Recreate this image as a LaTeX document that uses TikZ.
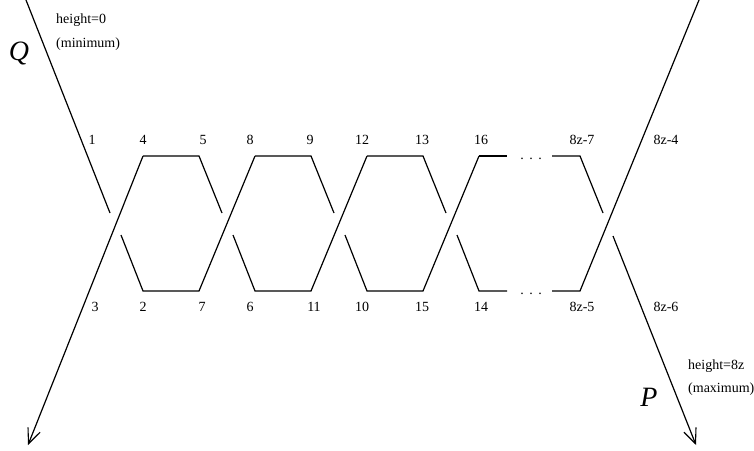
\documentclass[tikz,border=0pt]{standalone}
\usepackage{fontspec}
\setmainfont{Liberation Serif}
\usetikzlibrary{arrows.meta}

\begin{document}
\begin{tikzpicture}[x=1pt, y=-1pt]

  \tikzstyle{strand} = [line width=1.2pt, line join=miter]
  \tikzstyle{ray}    = [strand, -{Straight Barb[length=15pt, width=13pt, line width=1.1pt]}]
  \tikzstyle{lbl}    = [font=\fontsize{14}{16}\selectfont, inner sep=0pt]
  \tikzstyle{note}   = [lbl, anchor=west]
  \tikzstyle{big}    = [font=\fontsize{28}{30}\selectfont\itshape, inner sep=0pt]
  \tikzstyle{gapdot} = [font=\fontsize{14}{16}\selectfont, inner sep=0pt]

  \def\yTop{156}
  \def\yBot{291}

  \useasboundingbox (0,0) rectangle (754,450);

  % ---- OUTER STRANDS ----
  \draw[strand] (26,0) -- (110,213);
  \draw[ray] (143,\yTop) -- (28,445);
  \draw[ray] (613,236) -- (696,445);

  % ---- REPEATED CROSSINGS ----
  \foreach \x in {0,112,224}{
    \draw[strand] (143+\x,\yTop) -- (199+\x,\yTop) -- (222+\x,213);
    \draw[strand] (121+\x,235) -- (143+\x,\yBot) -- (199+\x,\yBot) -- (255+\x,\yTop);
  }

  % ---- LAST CROSSING, BROKEN BY DOTS ----
  \draw[strand] (479,\yTop) -- (507,\yTop);
  \draw[strand] (552,\yTop) -- (580,\yTop) -- (603,213);
  \draw[strand] (457,235) -- (479,\yBot) -- (507,\yBot);
  \draw[strand] (552,\yBot) -- (580,\yBot) -- (699,0);

  \foreach \x in {522,531,540}{
    \node[gapdot] (dt\x) at (\x,\yTop+3) {.};
    \node[gapdot] (db\x) at (\x,\yBot+3) {.};
  }

  % ---- TOP NUMBERS ----
  \foreach \x/\txt in {92/1,143/4,203/5,250/8,310/9,362/12,422/13,481/16,582/8z-7,666/8z-4}{
    \node[lbl] (t\x) at (\x,140) {\txt};
  }

  % ---- BOTTOM NUMBERS ----
  \foreach \x/\txt in {95/3,143/2,202/7,250/6,314/11,362/10,422/15,481/14,582/8z-5,666/8z-6}{
    \node[lbl] (b\x) at (\x,307) {\txt};
  }

  % ---- END LABELS ----
  \node[big] (q) at (19,53) {Q};
  \node[note] (hmin) at (56,20) {height=0};
  \node[note] (lmin) at (56,44) {(minimum)};
  \node[big] (p) at (649,397) {P};
  \node[note] (hmax) at (688,366) {height=8z};
  \node[note] (lmax) at (688,389) {(maximum)};

\end{tikzpicture}
\end{document}
